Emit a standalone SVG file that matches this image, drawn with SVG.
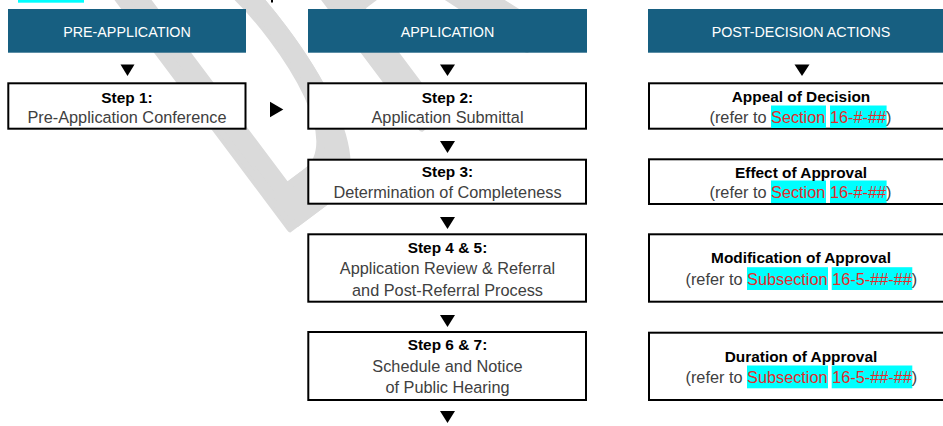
<svg xmlns="http://www.w3.org/2000/svg" width="943" height="426" viewBox="0 0 943 426">
<style>
.hdr{fill:#175f81}
.hdrt{font-family:"Liberation Sans",Arial,sans-serif;font-size:14.3px;fill:#ffffff;text-anchor:middle}
.box{fill:#ffffff;stroke:#000000;stroke-width:2}
.ttl{font-family:"Liberation Sans",Arial,sans-serif;font-size:15.4px;font-weight:bold;fill:#000000;text-anchor:middle}
.body{font-family:"Liberation Sans",Arial,sans-serif;font-size:16.3px;fill:#404040;text-anchor:middle}
.ref{font-family:"Liberation Sans",Arial,sans-serif;font-size:16.3px;fill:#404040}
.red{fill:#e32b2b}
.hl{fill:#00ffff}
.arr{fill:#000000}
.wm{font-family:"Liberation Sans",Arial,sans-serif;font-size:465px;fill:#dadada;stroke:#dadada;stroke-width:6;stroke-linejoin:round}
.wmr{font-family:"Liberation Sans",Arial,sans-serif;font-size:465px;fill:#dadada;stroke:#dadada;stroke-width:10;stroke-linejoin:round}
</style>
<defs>
<text id="wmD" class="wm" vector-effect="non-scaling-stroke" x="0" y="0">D</text>
</defs>
<rect width="943" height="426" fill="#ffffff"/>
<g id="watermark">
<use href="#wmD" transform="translate(275.3,239) rotate(-36.87) scale(0.43,1)"/>
<use href="#wmD" transform="translate(283.7,232.7) rotate(-36.87) scale(0.397,1)"/>
<text class="wmr" transform="translate(402.5,140.6) rotate(-36.87) scale(0.58,1)" x="0" y="0">R</text>
</g>
<g id="page-fragments">
<rect x="18" y="0" width="66" height="2.7" fill="#00ffff"/>
<rect x="271" y="0" width="2" height="2.5" fill="#000000"/>
</g>
<g id="connectors">
<polygon class="arr" points="120.5,64.5 134.5,64.5 127.5,76"/>
<polygon class="arr" points="440,64.5 455,64.5 447.5,76"/>
<polygon class="arr" points="794.5,64.5 809.5,64.5 802,76"/>
<polygon class="arr" points="270,101.7 283.3,109.5 270,117.3"/>
<polygon class="arr" points="440,141 455,141 447.5,153"/>
<polygon class="arr" points="440,217 455,217 447.5,229"/>
<polygon class="arr" points="440,315 455,315 447.5,327"/>
<polygon class="arr" points="440,411 455,411 447.5,423"/>
</g>
<g id="header-pre-application">
<rect class="hdr" x="8" y="9" width="238" height="43.7"/>
<text class="hdrt" x="127" y="37.3">PRE-APPLICATION</text>
</g>
<g id="header-application">
<rect class="hdr" x="308" y="9" width="279" height="43.7"/>
<text class="hdrt" x="447.5" y="37.3">APPLICATION</text>
</g>
<g id="header-post-decision">
<rect class="hdr" x="648" y="9" width="310" height="43.7"/>
<text class="hdrt" x="801" y="37.3">POST-DECISION ACTIONS</text>
</g>
<g id="step-1">
<rect class="box" x="8.3" y="83.3" width="237.2" height="45.4"/>
<text class="ttl" x="127" y="102.7">Step 1:</text>
<text class="body" x="127" y="123.3">Pre-Application Conference</text>
</g>
<g id="step-2">
<rect class="box" x="308.3" y="83.3" width="277.7" height="45.4"/>
<text class="ttl" x="447.5" y="102.7">Step 2:</text>
<text class="body" x="447.5" y="123.3">Application Submittal</text>
</g>
<g id="step-3">
<rect class="box" x="308.3" y="159.7" width="277.7" height="44"/>
<text class="ttl" x="447.5" y="176.7">Step 3:</text>
<text class="body" x="447.5" y="198.3">Determination of Completeness</text>
</g>
<g id="step-4-5">
<rect class="box" x="308.3" y="234.3" width="277.7" height="67.4"/>
<text class="ttl" x="447.5" y="252.7">Step 4 &amp; 5:</text>
<text class="body" x="447.5" y="274.3">Application Review &amp; Referral</text>
<text class="body" x="447.5" y="296">and Post-Referral Process</text>
</g>
<g id="step-6-7">
<rect class="box" x="308.3" y="332" width="277.7" height="68"/>
<text class="ttl" x="447.5" y="350">Step 6 &amp; 7:</text>
<text class="body" x="447.5" y="371.7">Schedule and Notice</text>
<text class="body" x="447.5" y="393.3">of Public Hearing</text>
</g>
<g id="appeal-of-decision">
<rect class="box" x="649" y="83.3" width="310" height="45.4"/>
<rect class="hl" x="771" y="105.5" width="55" height="22.5"/>
<rect class="hl" x="830" y="105.5" width="56.6" height="22.5"/>
<text class="ttl" x="801" y="101.7">Appeal of Decision</text>
<text class="ref" x="709.5" y="123.3">(refer to <tspan class="red">Section</tspan> <tspan class="red">16-#-##</tspan>)</text>
</g>
<g id="effect-of-approval">
<rect class="box" x="649" y="159.3" width="310" height="44.7"/>
<rect class="hl" x="771" y="180.5" width="55" height="22.5"/>
<rect class="hl" x="830" y="180.5" width="56.6" height="22.5"/>
<text class="ttl" x="801" y="177.7">Effect of Approval</text>
<text class="ref" x="709.5" y="198.3">(refer to <tspan class="red">Section</tspan> <tspan class="red">16-#-##</tspan>)</text>
</g>
<g id="modification-of-approval">
<rect class="box" x="649" y="234.3" width="310" height="67.4"/>
<rect class="hl" x="747" y="267.2" width="81" height="22.8"/>
<rect class="hl" x="831.7" y="267.2" width="80.6" height="22.8"/>
<text class="ttl" x="801" y="263.3">Modification of Approval</text>
<text class="ref" x="685.5" y="285">(refer to <tspan class="red">Subsection</tspan> <tspan class="red">16-5-##-##</tspan>)</text>
</g>
<g id="duration-of-approval">
<rect class="box" x="649" y="332.7" width="310" height="67.3"/>
<rect class="hl" x="747" y="365.5" width="81" height="22.8"/>
<rect class="hl" x="831.7" y="365.5" width="80.6" height="22.8"/>
<text class="ttl" x="801" y="361.7">Duration of Approval</text>
<text class="ref" x="685.5" y="383.3">(refer to <tspan class="red">Subsection</tspan> <tspan class="red">16-5-##-##</tspan>)</text>
</g>
</svg>
